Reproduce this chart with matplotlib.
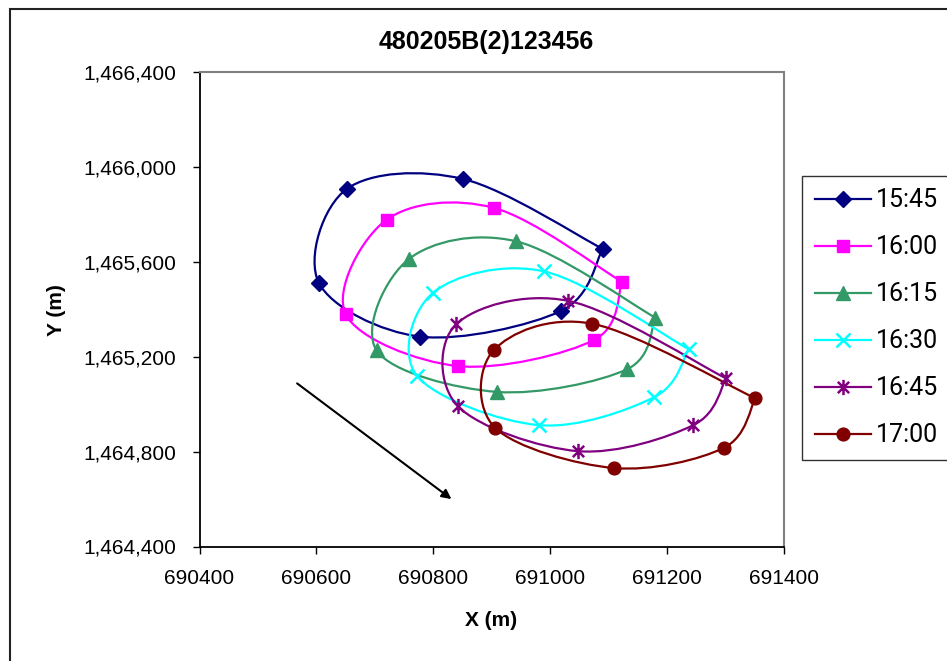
import matplotlib
matplotlib.use("Agg")
import matplotlib.pyplot as plt
from matplotlib.path import Path
from matplotlib.patches import PathPatch, Rectangle
from matplotlib.lines import Line2D
from matplotlib.ticker import FuncFormatter, MultipleLocator

# ---- data (closed loops, start point repeated at the end) ----
labels = ["15:45", "16:00", "16:15", "16:30", "16:45", "17:00"]

x_1545 = [691090, 691019, 690778, 690604, 690652, 690851, 691090]
y_1545 = [1465655, 1465394, 1465285, 1465513, 1465908, 1465950, 1465655]

x_1600 = [691123, 691075, 690842, 690650, 690720, 690904, 691123]
y_1600 = [1465516, 1465271, 1465161, 1465380, 1465778, 1465828, 1465516]

x_1615 = [691180, 691131, 690909, 690703, 690758, 690942, 691180]
y_1615 = [1465365, 1465147, 1465052, 1465227, 1465612, 1465687, 1465365]

x_1630 = [691237, 691178, 690980, 690772, 690800, 690990, 691237]
y_1630 = [1465232, 1465030, 1464912, 1465120, 1465471, 1465560, 1465232]

x_1645 = [691301, 691245, 691048, 690842, 690839, 691031, 691301]
y_1645 = [1465109, 1464912, 1464802, 1464992, 1465337, 1465436, 1465109]

x_1700 = [691351, 691297, 691109, 690906, 690903, 691071, 691351]
y_1700 = [1465025, 1464816, 1464731, 1464900, 1465227, 1465340, 1465025]

arrow_start = (690567, 1465088)
arrow_end = (690831, 1464600)

xs = [x_1545, x_1600, x_1615, x_1630, x_1645, x_1700]
ys = [y_1545, y_1600, y_1615, y_1630, y_1645, y_1700]

# ---- styles ----
colors = ["#000080", "#FF00FF", "#339966", "#00FFFF", "#800080", "#800000"]
star_path = Path([(-1, -1), (1, 1), (-1, 1), (1, -1), (0, -1.35), (0, 1.35)],
                 [Path.MOVETO, Path.LINETO, Path.MOVETO, Path.LINETO,
                  Path.MOVETO, Path.LINETO])
markers = ["D", "s", "^", "x", star_path, "o"]
msizes = [8.6, 9.2, 10.5, 10.0, 11.0, 9.2]
filled = [True, True, True, False, False, True]

W, H = 947, 661
fig = plt.figure(figsize=(W / 100, H / 100), dpi=100)
fig.patch.set_facecolor("white")

# outer chart frame (left/top visible)
fig.add_artist(Rectangle((9.5 / W, -0.05), 1.1, 1 - 8.5 / H + 0.05,
                         transform=fig.transFigure, fill=False,
                         edgecolor="#222222", linewidth=1.5))

left, right, top, bottom = 199.5, 784, 72.3, 546.5
ax = fig.add_axes([left / W, 1 - bottom / H, (right - left) / W, (bottom - top) / H])
ax.set_xlim(690400, 691400)
ax.set_ylim(1464400, 1466400)


def smooth_path(px, py):
    pts = list(zip(px, py))
    n = len(pts)
    verts = [pts[0]]
    codes = [Path.MOVETO]
    for i in range(n - 1):
        p0 = pts[i - 1] if i > 0 else pts[i]
        p1 = pts[i]
        p2 = pts[i + 1]
        p3 = pts[i + 2] if i + 2 < n else pts[i + 1]
        c1 = (p1[0] + (p2[0] - p0[0]) / 6.0, p1[1] + (p2[1] - p0[1]) / 6.0)
        c2 = (p2[0] - (p3[0] - p1[0]) / 6.0, p2[1] - (p3[1] - p1[1]) / 6.0)
        verts += [c1, c2, p2]
        codes += [Path.CURVE4] * 3
    return Path(verts, codes)


handles = []
for i in range(len(labels)):
    c = colors[i]
    ax.add_patch(PathPatch(smooth_path(xs[i], ys[i]), facecolor="none",
                           edgecolor=c, linewidth=1.6, zorder=2))
    mk = dict(marker=markers[i], markersize=msizes[i], color=c,
              markerfacecolor=c if filled[i] else "none",
              markeredgecolor=c, markeredgewidth=1.0 if filled[i] else 1.8)
    ax.plot(xs[i][:-1], ys[i][:-1], linestyle="none", zorder=3, **mk)
    handles.append(Line2D([], [], linewidth=1.6, **mk))

ax.annotate("", xy=arrow_end, xytext=arrow_start,
            arrowprops=dict(arrowstyle="-|>", color="black", lw=1.5,
                            mutation_scale=14, shrinkA=0, shrinkB=0))

# axes styling
ax.xaxis.set_major_locator(MultipleLocator(200))
ax.yaxis.set_major_locator(MultipleLocator(400))
ax.yaxis.set_major_formatter(FuncFormatter(lambda v, p: f"{int(round(v)):,}"))
ax.xaxis.set_major_formatter(FuncFormatter(lambda v, p: f"{int(round(v))}"))
ax.tick_params(axis="both", direction="out", length=5, width=1.0,
               labelsize=15, colors="black")
ax.tick_params(axis="y", pad=12)
ax.tick_params(axis="x", pad=11)
for t in ax.get_xticklabels() + ax.get_yticklabels():
    t.set_fontfamily("Liberation Sans")
ax.spines["left"].set_color("black")
ax.spines["bottom"].set_color("black")
ax.spines["left"].set_linewidth(1.3)
ax.spines["bottom"].set_linewidth(1.3)
ax.spines["top"].set_color("#808080")
ax.spines["right"].set_color("#808080")
ax.spines["top"].set_linewidth(1.5)
ax.spines["right"].set_linewidth(1.5)

fig.text(486 / W, 1 - 42 / H, "480205B(2)123456", ha="center", va="center",
         fontsize=18, fontweight="bold", family="Liberation Sans")
fig.text(491 / W, 1 - 620 / H, "X (m)", ha="center", va="center",
         fontsize=15, fontweight="bold", family="Liberation Sans")
fig.text(56 / W, 1 - 310 / H, "Y (m)", ha="center", va="center", rotation=90,
         fontsize=15, fontweight="bold", family="Liberation Sans")

leg = fig.legend(handles, labels, loc="upper left",
                 bbox_to_anchor=(802 / W, 1 - 176 / H), borderaxespad=0,
                 prop={"family": "Roboto", "size": 18}, frameon=True,
                 fancybox=False, shadow=False, handlelength=2.25,
                 handletextpad=0.2, labelspacing=0.92, borderpad=0.5)
leg.get_frame().set_edgecolor("black")
leg.get_frame().set_linewidth(1.0)

fig.savefig("out.png", dpi=100, facecolor="white")
